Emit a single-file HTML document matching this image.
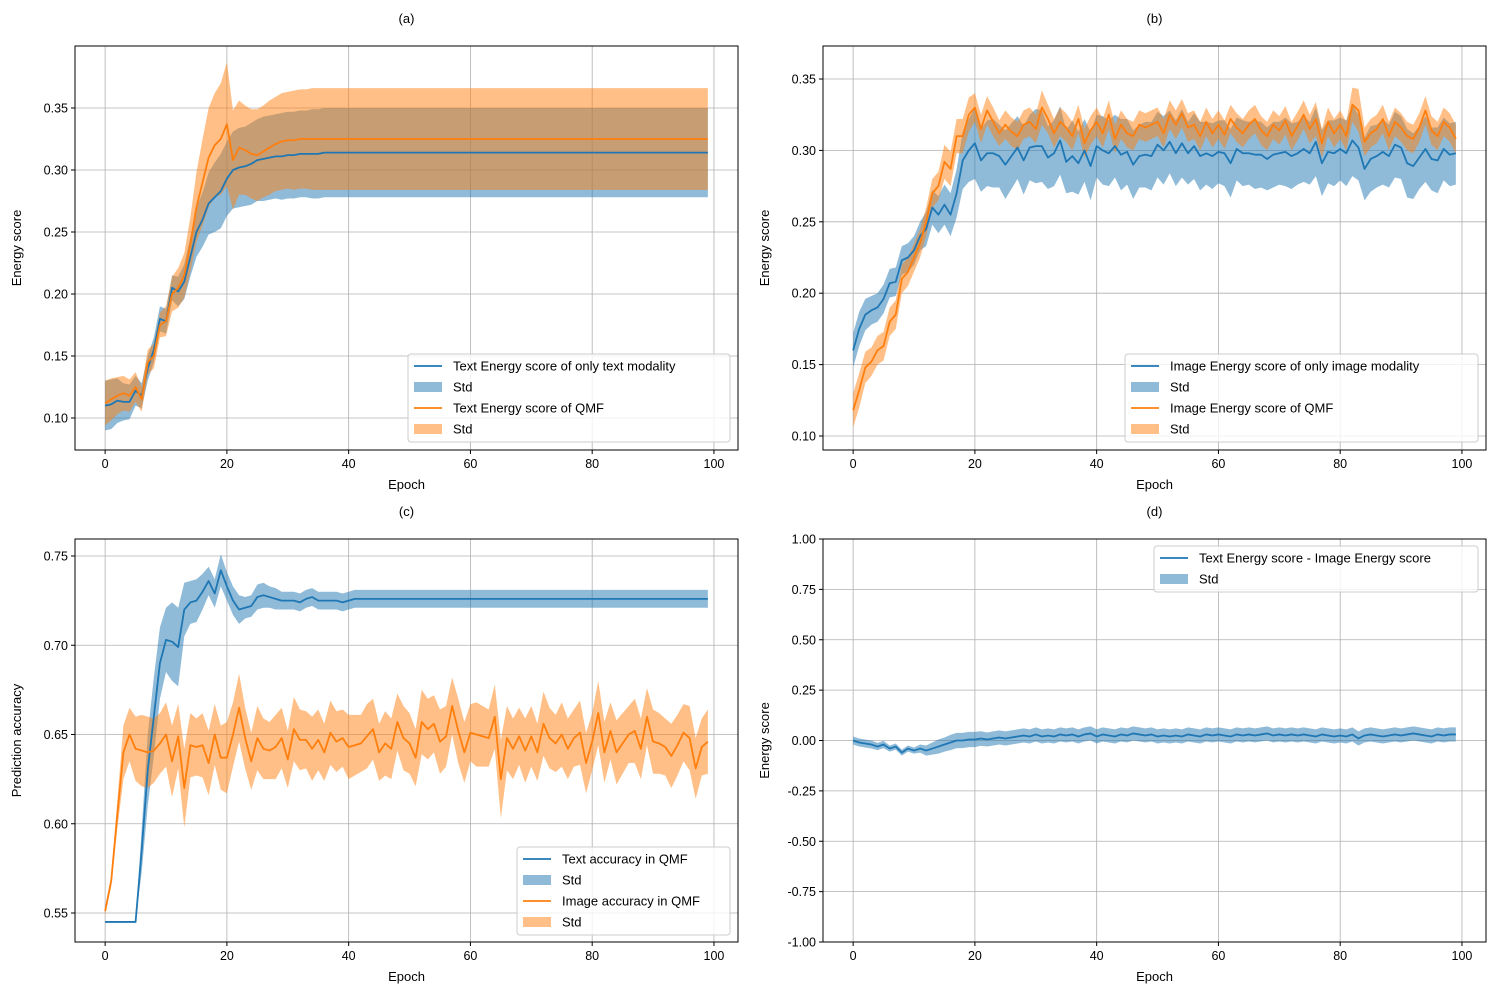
<!DOCTYPE html>
<html><head><meta charset="utf-8"><style>
html,body{margin:0;padding:0;background:#fff;}
svg{display:block;font-family:"Liberation Sans","DejaVu Sans",sans-serif;}
</style></head><body>
<svg id="fig" width="1500" height="1000" viewBox="0 0 1500 1000" xmlns="http://www.w3.org/2000/svg"></svg>
<script>
const aTextMean=[0.110,0.111,0.114,0.113,0.113,0.122,0.118,0.140,0.155,0.180,0.178,0.205,0.202,0.210,0.230,0.250,0.260,0.273,0.278,0.283,0.293,0.300,0.302,0.303,0.305,0.308,0.309,0.310,0.311,0.311,0.312,0.312,0.313,0.313,0.313,0.313,0.314,0.314,0.314,0.314,0.314,0.314,0.314,0.314,0.314,0.314,0.314,0.314,0.314,0.314,0.314,0.314,0.314,0.314,0.314,0.314,0.314,0.314,0.314,0.314,0.314,0.314,0.314,0.314,0.314,0.314,0.314,0.314,0.314,0.314,0.314,0.314,0.314,0.314,0.314,0.314,0.314,0.314,0.314,0.314,0.314,0.314,0.314,0.314,0.314,0.314,0.314,0.314,0.314,0.314,0.314,0.314,0.314,0.314,0.314,0.314,0.314,0.314,0.314,0.314];
const aTextStd=[0.020,0.020,0.018,0.015,0.014,0.012,0.010,0.010,0.010,0.010,0.010,0.010,0.012,0.014,0.016,0.020,0.022,0.025,0.028,0.030,0.030,0.031,0.032,0.032,0.033,0.033,0.034,0.034,0.034,0.035,0.035,0.035,0.035,0.035,0.036,0.036,0.036,0.036,0.036,0.036,0.036,0.036,0.036,0.036,0.036,0.036,0.036,0.036,0.036,0.036,0.036,0.036,0.036,0.036,0.036,0.036,0.036,0.036,0.036,0.036,0.036,0.036,0.036,0.036,0.036,0.036,0.036,0.036,0.036,0.036,0.036,0.036,0.036,0.036,0.036,0.036,0.036,0.036,0.036,0.036,0.036,0.036,0.036,0.036,0.036,0.036,0.036,0.036,0.036,0.036,0.036,0.036,0.036,0.036,0.036,0.036,0.036,0.036,0.036,0.036];
const aQmfMean=[0.112,0.115,0.118,0.120,0.118,0.125,0.115,0.145,0.150,0.175,0.178,0.200,0.205,0.215,0.240,0.270,0.290,0.310,0.320,0.325,0.337,0.308,0.318,0.316,0.313,0.312,0.315,0.318,0.321,0.323,0.324,0.324,0.325,0.325,0.325,0.325,0.325,0.325,0.325,0.325,0.325,0.325,0.325,0.325,0.325,0.325,0.325,0.325,0.325,0.325,0.325,0.325,0.325,0.325,0.325,0.325,0.325,0.325,0.325,0.325,0.325,0.325,0.325,0.325,0.325,0.325,0.325,0.325,0.325,0.325,0.325,0.325,0.325,0.325,0.325,0.325,0.325,0.325,0.325,0.325,0.325,0.325,0.325,0.325,0.325,0.325,0.325,0.325,0.325,0.325,0.325,0.325,0.325,0.325,0.325,0.325,0.325,0.325,0.325,0.325];
const aQmfStd=[0.018,0.017,0.015,0.014,0.013,0.012,0.010,0.010,0.010,0.010,0.012,0.014,0.016,0.018,0.022,0.028,0.035,0.040,0.042,0.045,0.050,0.040,0.038,0.036,0.036,0.037,0.037,0.038,0.038,0.039,0.039,0.040,0.040,0.040,0.041,0.041,0.041,0.041,0.041,0.041,0.041,0.041,0.041,0.041,0.041,0.041,0.041,0.041,0.041,0.041,0.041,0.041,0.041,0.041,0.041,0.041,0.041,0.041,0.041,0.041,0.041,0.041,0.041,0.041,0.041,0.041,0.041,0.041,0.041,0.041,0.041,0.041,0.041,0.041,0.041,0.041,0.041,0.041,0.041,0.041,0.041,0.041,0.041,0.041,0.041,0.041,0.041,0.041,0.041,0.041,0.041,0.041,0.041,0.041,0.041,0.041,0.041,0.041,0.041,0.041];
const bImgMean=[0.160,0.175,0.185,0.188,0.190,0.196,0.207,0.208,0.223,0.225,0.230,0.240,0.245,0.260,0.255,0.262,0.255,0.270,0.293,0.300,0.305,0.293,0.298,0.298,0.296,0.290,0.296,0.302,0.293,0.302,0.303,0.303,0.295,0.298,0.307,0.292,0.296,0.291,0.300,0.289,0.303,0.300,0.298,0.303,0.297,0.299,0.290,0.296,0.297,0.296,0.304,0.300,0.306,0.298,0.305,0.298,0.303,0.296,0.298,0.296,0.299,0.298,0.291,0.301,0.298,0.298,0.297,0.297,0.294,0.297,0.298,0.299,0.296,0.298,0.301,0.298,0.306,0.291,0.299,0.298,0.301,0.298,0.307,0.302,0.287,0.294,0.296,0.299,0.296,0.304,0.302,0.291,0.289,0.295,0.301,0.294,0.293,0.301,0.297,0.298];
const bImgStd=[0.012,0.012,0.011,0.010,0.010,0.010,0.010,0.010,0.010,0.010,0.010,0.010,0.012,0.012,0.013,0.014,0.015,0.017,0.020,0.022,0.025,0.022,0.023,0.024,0.022,0.024,0.023,0.022,0.024,0.023,0.026,0.025,0.022,0.023,0.024,0.022,0.025,0.022,0.022,0.024,0.022,0.024,0.023,0.022,0.025,0.023,0.024,0.022,0.023,0.024,0.023,0.024,0.022,0.023,0.024,0.022,0.023,0.024,0.022,0.023,0.022,0.023,0.024,0.022,0.023,0.022,0.024,0.023,0.022,0.023,0.022,0.024,0.023,0.022,0.023,0.022,0.024,0.023,0.022,0.023,0.022,0.023,0.025,0.023,0.022,0.023,0.022,0.023,0.022,0.023,0.022,0.024,0.023,0.022,0.023,0.022,0.023,0.022,0.022,0.022];
const bQmfMean=[0.118,0.132,0.148,0.152,0.160,0.163,0.180,0.185,0.210,0.215,0.225,0.235,0.250,0.270,0.275,0.292,0.287,0.310,0.310,0.325,0.330,0.315,0.328,0.320,0.312,0.318,0.313,0.310,0.318,0.320,0.315,0.330,0.322,0.312,0.320,0.316,0.310,0.322,0.305,0.314,0.320,0.312,0.325,0.308,0.318,0.312,0.310,0.318,0.316,0.318,0.320,0.312,0.325,0.318,0.326,0.316,0.318,0.310,0.320,0.312,0.318,0.311,0.322,0.316,0.312,0.318,0.322,0.314,0.310,0.318,0.314,0.321,0.310,0.317,0.325,0.315,0.322,0.305,0.320,0.312,0.318,0.310,0.332,0.328,0.306,0.312,0.315,0.322,0.310,0.320,0.316,0.310,0.308,0.316,0.328,0.314,0.310,0.320,0.316,0.308];
const bQmfStd=[0.012,0.012,0.011,0.010,0.010,0.010,0.010,0.010,0.010,0.010,0.010,0.010,0.010,0.010,0.010,0.012,0.012,0.012,0.012,0.012,0.010,0.010,0.010,0.010,0.009,0.010,0.010,0.010,0.010,0.010,0.010,0.012,0.010,0.010,0.010,0.010,0.010,0.010,0.010,0.010,0.010,0.010,0.010,0.010,0.010,0.010,0.010,0.010,0.010,0.010,0.010,0.010,0.010,0.010,0.010,0.010,0.010,0.010,0.010,0.010,0.010,0.010,0.010,0.010,0.010,0.010,0.010,0.010,0.010,0.010,0.010,0.010,0.010,0.010,0.010,0.010,0.012,0.010,0.010,0.010,0.010,0.010,0.012,0.015,0.010,0.010,0.010,0.010,0.010,0.010,0.010,0.010,0.010,0.010,0.010,0.010,0.010,0.010,0.010,0.010];
const cTextAcc=[0.545,0.545,0.545,0.545,0.545,0.545,0.585,0.630,0.660,0.690,0.703,0.702,0.699,0.720,0.724,0.725,0.730,0.736,0.729,0.742,0.733,0.725,0.720,0.721,0.722,0.727,0.728,0.727,0.726,0.725,0.725,0.725,0.724,0.726,0.727,0.725,0.725,0.725,0.725,0.724,0.725,0.726,0.726,0.726,0.726,0.726,0.726,0.726,0.726,0.726,0.726,0.726,0.726,0.726,0.726,0.726,0.726,0.726,0.726,0.726,0.726,0.726,0.726,0.726,0.726,0.726,0.726,0.726,0.726,0.726,0.726,0.726,0.726,0.726,0.726,0.726,0.726,0.726,0.726,0.726,0.726,0.726,0.726,0.726,0.726,0.726,0.726,0.726,0.726,0.726,0.726,0.726,0.726,0.726,0.726,0.726,0.726,0.726,0.726,0.726];
const cTextStd=[0.000,0.000,0.000,0.000,0.000,0.000,0.012,0.020,0.022,0.020,0.018,0.022,0.022,0.015,0.012,0.012,0.010,0.008,0.008,0.009,0.008,0.008,0.008,0.006,0.006,0.007,0.007,0.006,0.006,0.005,0.005,0.005,0.005,0.005,0.005,0.005,0.005,0.005,0.005,0.005,0.005,0.005,0.005,0.005,0.005,0.005,0.005,0.005,0.005,0.005,0.005,0.005,0.005,0.005,0.005,0.005,0.005,0.005,0.005,0.005,0.005,0.005,0.005,0.005,0.005,0.005,0.005,0.005,0.005,0.005,0.005,0.005,0.005,0.005,0.005,0.005,0.005,0.005,0.005,0.005,0.005,0.005,0.005,0.005,0.005,0.005,0.005,0.005,0.005,0.005,0.005,0.005,0.005,0.005,0.005,0.005,0.005,0.005,0.005,0.005];
const cImgAcc=[0.551,0.568,0.605,0.640,0.650,0.642,0.641,0.640,0.641,0.645,0.650,0.635,0.649,0.620,0.644,0.643,0.644,0.634,0.650,0.637,0.637,0.650,0.665,0.648,0.635,0.648,0.642,0.641,0.643,0.648,0.636,0.653,0.647,0.647,0.642,0.647,0.640,0.651,0.646,0.648,0.643,0.644,0.645,0.649,0.653,0.640,0.645,0.642,0.657,0.648,0.645,0.637,0.657,0.653,0.656,0.646,0.649,0.666,0.652,0.640,0.651,0.650,0.649,0.648,0.660,0.625,0.648,0.642,0.649,0.641,0.649,0.640,0.656,0.648,0.645,0.650,0.642,0.648,0.651,0.634,0.646,0.662,0.640,0.652,0.640,0.645,0.650,0.652,0.642,0.660,0.646,0.645,0.643,0.638,0.644,0.651,0.648,0.631,0.643,0.646];
const cImgStd=[0.002,0.003,0.008,0.015,0.015,0.018,0.020,0.020,0.018,0.017,0.018,0.020,0.018,0.022,0.018,0.016,0.018,0.018,0.017,0.018,0.020,0.018,0.019,0.017,0.016,0.018,0.017,0.016,0.018,0.017,0.016,0.018,0.017,0.016,0.018,0.017,0.016,0.018,0.017,0.016,0.018,0.017,0.016,0.018,0.017,0.016,0.018,0.017,0.016,0.018,0.017,0.016,0.018,0.017,0.016,0.018,0.017,0.016,0.018,0.017,0.016,0.018,0.017,0.016,0.018,0.022,0.018,0.017,0.016,0.018,0.017,0.016,0.018,0.017,0.016,0.018,0.017,0.016,0.018,0.017,0.016,0.018,0.017,0.016,0.018,0.017,0.016,0.018,0.017,0.016,0.018,0.017,0.016,0.018,0.017,0.016,0.018,0.017,0.016,0.018];
const dDiffMean=[0.000,-0.010,-0.015,-0.020,-0.030,-0.020,-0.040,-0.030,-0.060,-0.040,-0.050,-0.040,-0.050,-0.040,-0.030,-0.020,-0.010,0.000,0.000,0.005,0.005,0.010,0.005,0.010,0.015,0.010,0.015,0.020,0.025,0.020,0.030,0.020,0.025,0.020,0.030,0.025,0.030,0.020,0.030,0.035,0.020,0.030,0.025,0.020,0.030,0.025,0.035,0.030,0.025,0.030,0.020,0.025,0.020,0.025,0.020,0.030,0.025,0.020,0.030,0.025,0.030,0.025,0.020,0.030,0.025,0.030,0.025,0.030,0.035,0.025,0.030,0.025,0.030,0.025,0.030,0.025,0.020,0.030,0.025,0.020,0.025,0.020,0.030,0.010,0.025,0.030,0.025,0.020,0.025,0.030,0.025,0.030,0.035,0.030,0.025,0.020,0.030,0.025,0.030,0.030];
const dDiffStd=[0.020,0.020,0.020,0.020,0.018,0.018,0.015,0.015,0.015,0.015,0.015,0.020,0.025,0.030,0.035,0.035,0.038,0.038,0.038,0.038,0.038,0.036,0.035,0.035,0.035,0.035,0.035,0.035,0.035,0.035,0.035,0.035,0.035,0.035,0.035,0.035,0.035,0.035,0.035,0.035,0.035,0.035,0.035,0.035,0.035,0.035,0.035,0.035,0.035,0.035,0.035,0.035,0.035,0.035,0.035,0.035,0.035,0.035,0.035,0.035,0.035,0.035,0.035,0.035,0.035,0.035,0.035,0.035,0.035,0.035,0.035,0.035,0.035,0.035,0.035,0.035,0.035,0.035,0.035,0.035,0.035,0.035,0.035,0.035,0.035,0.035,0.035,0.035,0.035,0.035,0.035,0.035,0.035,0.035,0.035,0.035,0.035,0.035,0.035,0.035];
const xTicks=[0,20,40,60,80,100];
const yTicksAB=[0.10,0.15,0.20,0.25,0.30,0.35];
const yTicksC=[0.55,0.60,0.65,0.70,0.75];
const yTicksD=[-1.00,-0.75,-0.50,-0.25,0.00,0.25,0.50,0.75,1.00];

const NS="http://www.w3.org/2000/svg";
const svg=document.getElementById('fig');
const BLUE="#1f77b4", ORANGE="#ff7f0e";
const XMIN=-4.95, XMAX=103.95;
function mk(tag,attrs,parent){const e=document.createElementNS(NS,tag);for(const k in attrs)e.setAttribute(k,attrs[k]);(parent||svg).appendChild(e);return e;}

function panel(p){
  const g=mk('g',{});
  
  
  const X=v=>p.x0+(v-XMIN)/(XMAX-XMIN)*(p.x1-p.x0);
  const Y=v=>p.y1-(v-p.ymin)/(p.ymax-p.ymin)*(p.y1-p.y0);
  xTicks.forEach(t=>{const l=mk('line',{x1:X(t),x2:X(t),y1:p.y0,y2:p.y1,stroke:'#b0b0b0','stroke-width':0.8},g);});
  p.yt.forEach(t=>{const l=mk('line',{x1:p.x0,x2:p.x1,y1:Y(t),y2:Y(t),stroke:'#b0b0b0','stroke-width':0.8},g);});
  p.series.forEach(s=>{
    let up='',lo='';
    s.mean.forEach((m,i)=>{up+=(i?'L':'M')+X(i).toFixed(2)+','+Y(m+s.std[i]).toFixed(2);});
    for(let i=s.mean.length-1;i>=0;i--){lo+='L'+X(i).toFixed(2)+','+Y(s.mean[i]-s.std[i]).toFixed(2);}
    const band=mk('path',{d:up+lo+'Z',fill:s.color,'fill-opacity':0.5,stroke:'none'},g);
    
    
  });
  p.series.forEach(s=>{
    const pts=s.mean.map((m,i)=>X(i).toFixed(2)+','+Y(m).toFixed(2)).join(' ');
    const ln=mk('polyline',{points:pts,fill:'none',stroke:s.color,'stroke-width':1.8,'stroke-linejoin':'round'},g);
    
    
  });
  const fr=mk('rect',{x:p.x0,y:p.y0,width:p.x1-p.x0,height:p.y1-p.y0,fill:'none',stroke:'#000','stroke-width':1},g);
  
  xTicks.forEach(t=>{
    mk('line',{x1:X(t),x2:X(t),y1:p.y1,y2:p.y1+4,stroke:'#000'},g);
    const tx=mk('text',{x:X(t),y:p.y1+18,'text-anchor':'middle','font-size':12.5},g);tx.textContent=t;
    
  });
  p.yt.forEach(t=>{
    mk('line',{x1:p.x0-4,x2:p.x0,y1:Y(t),y2:Y(t),stroke:'#000'},g);
    const tx=mk('text',{x:p.x0-7,y:Y(t)+4.5,'text-anchor':'end','font-size':12.5},g);tx.textContent=t.toFixed(2);
    
  });
  const xl=mk('text',{x:(p.x0+p.x1)/2,y:p.y1+39,'text-anchor':'middle','font-size':13},g);xl.textContent='Epoch';
  
  const yx=p.x0-54, yy=(p.y0+p.y1)/2;
  const yl=mk('text',{x:yx,y:yy,'text-anchor':'middle','font-size':13,transform:`rotate(-90 ${yx} ${yy})`},g);yl.textContent=p.ylabel;
  
  const ti=mk('text',{x:(p.x0+p.x1)/2,y:p.y0-23,'text-anchor':'middle','font-size':13},g);ti.textContent=p.title;
  
  const L=p.legend;
  const lg=mk('g',{},g);
  
  mk('rect',{x:L.x,y:L.y,width:L.w,height:L.entries.length*21+4,rx:3,fill:'#fff','fill-opacity':0.8,stroke:'#ccc'},lg);
  L.entries.forEach((e,i)=>{
    const cy=L.y+12+i*21;
    if(e.type==='line') mk('line',{x1:L.x+6,x2:L.x+34,y1:cy,y2:cy,stroke:e.color,'stroke-width':1.8},lg);
    else mk('rect',{x:L.x+6,y:cy-5,width:28,height:10,fill:e.color,'fill-opacity':0.5},lg);
    const t=mk('text',{x:L.x+45,y:cy+4.5,'font-size':13},lg);t.textContent=e.label;
    
  });
}

panel({name:'panel-a',title:'(a)',x0:75,x1:738,y0:46,y1:450,ymin:0.10-32/1240,ymax:0.10+372/1240,yt:yTicksAB,ylabel:'Energy score',
  series:[{id:'text-only',mean:aTextMean,std:aTextStd,color:BLUE},{id:'text-qmf',mean:aQmfMean,std:aQmfStd,color:ORANGE}],
  legend:{x:408,y:354,w:322,entries:[{type:'line',color:BLUE,label:'Text Energy score of only text modality'},{type:'box',color:BLUE,label:'Std'},{type:'line',color:ORANGE,label:'Text Energy score of QMF'},{type:'box',color:ORANGE,label:'Std'}]}});
panel({name:'panel-b',title:'(b)',x0:823,x1:1486,y0:46,y1:450,ymin:0.10-14/1428,ymax:0.10+390/1428,yt:yTicksAB,ylabel:'Energy score',
  series:[{id:'image-only',mean:bImgMean,std:bImgStd,color:BLUE},{id:'image-qmf',mean:bQmfMean,std:bQmfStd,color:ORANGE}],
  legend:{x:1125,y:354,w:353,entries:[{type:'line',color:BLUE,label:'Image Energy score of only image modality'},{type:'box',color:BLUE,label:'Std'},{type:'line',color:ORANGE,label:'Image Energy score of QMF'},{type:'box',color:ORANGE,label:'Std'}]}});
panel({name:'panel-c',title:'(c)',x0:75,x1:738,y0:539,y1:942,ymin:0.55-29/1785,ymax:0.55+374/1785,yt:yTicksC,ylabel:'Prediction accuracy',
  series:[{id:'text-accuracy',mean:cTextAcc,std:cTextStd,color:BLUE},{id:'image-accuracy',mean:cImgAcc,std:cImgStd,color:ORANGE}],
  legend:{x:517,y:847,w:213,entries:[{type:'line',color:BLUE,label:'Text accuracy in QMF'},{type:'box',color:BLUE,label:'Std'},{type:'line',color:ORANGE,label:'Image accuracy in QMF'},{type:'box',color:ORANGE,label:'Std'}]}});
panel({name:'panel-d',title:'(d)',x0:823,x1:1486,y0:539,y1:942,ymin:-1,ymax:1,yt:yTicksD,ylabel:'Energy score',
  series:[{id:'energy-difference',mean:dDiffMean,std:dDiffStd,color:BLUE}],
  legend:{x:1154,y:546,w:324,entries:[{type:'line',color:BLUE,label:'Text Energy score - Image Energy score'},{type:'box',color:BLUE,label:'Std'}]}});
</script>
</body></html>
